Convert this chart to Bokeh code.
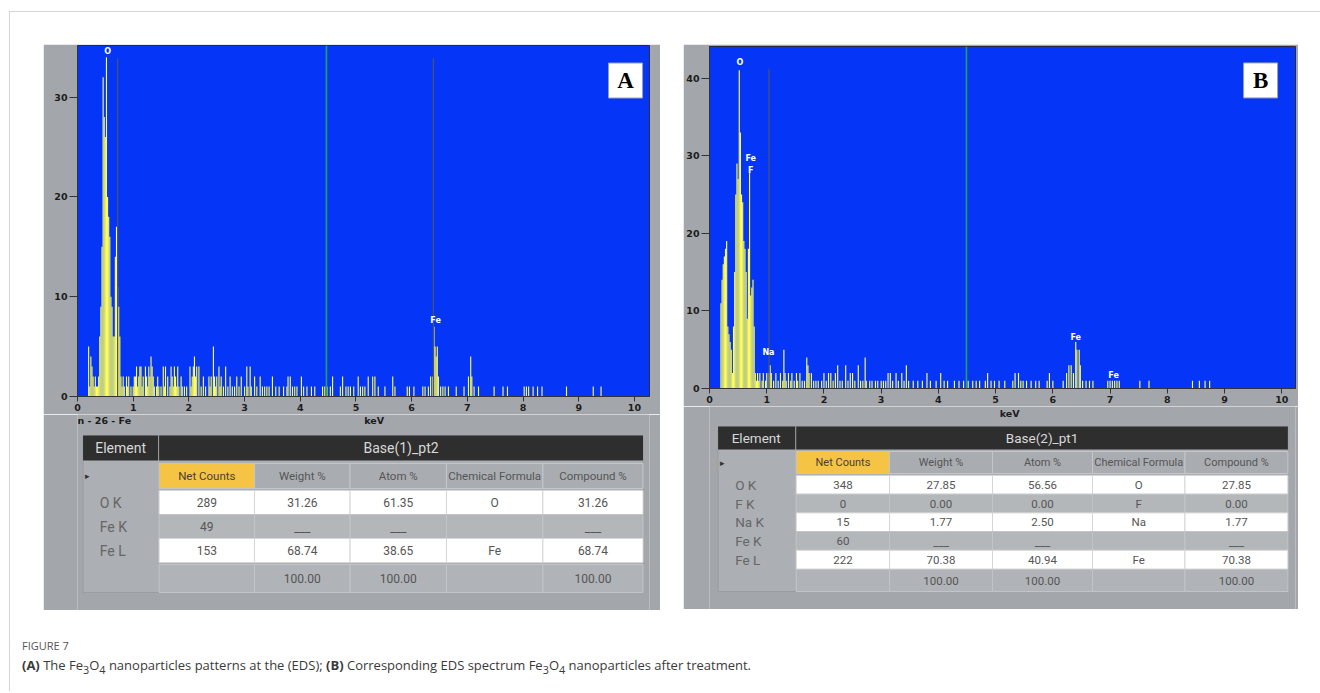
from bokeh.plotting import figure
from bokeh.models import Range1d, FixedTicker, Span, Spacer, Div
from bokeh.layouts import column, row
from bokeh.core.properties import value
from bokeh.embed import file_html
from bokeh.resources import INLINE

# ---------------- DATA ----------------
x_ticks = [0, 1, 2, 3, 4, 5, 6, 7, 8, 9, 10]
a_y_ticks = [0, 10, 20, 30]
b_y_ticks = [0, 10, 20, 30, 40]
x_label = "keV"
a_spectrum_name = "n - 26 - Fe"

# Spectrum A (keV, counts)
a_peak_e = [0.20, 0.22, 0.24, 0.26, 0.28, 0.30, 0.32, 0.34, 0.36, 0.38,
            0.40, 0.42, 0.44, 0.46, 0.48, 0.50, 0.52, 0.54, 0.56, 0.58,
            0.60, 0.62, 0.64, 0.66, 0.68, 0.70, 0.72, 0.74, 0.76, 0.78,
            0.80, 0.82, 0.84]
a_peak_c = [5, 1, 4, 3, 2, 1, 2, 1, 1, 2,
            6, 9, 15, 32, 28, 26, 34, 20, 18, 16,
            10, 9, 6, 6, 14, 17, 11, 9, 6, 2,
            1, 2, 1]
a_noise_e = [0.88, 0.90, 0.92, 0.96, 1.00, 1.02, 1.04, 1.06, 1.08, 1.10,
             1.12, 1.14, 1.16, 1.18, 1.22, 1.24, 1.26, 1.28, 1.30, 1.32,
             1.34, 1.36, 1.38, 1.42, 1.44, 1.46, 1.50, 1.54, 1.56, 1.58,
             1.62, 1.66, 1.68, 1.70, 1.72, 1.74, 1.76, 1.78, 1.80, 1.82,
             1.86, 1.88, 1.92, 1.96, 2.02, 2.04, 2.06, 2.08, 2.10, 2.12,
             2.14, 2.18, 2.22, 2.26, 2.30, 2.36, 2.38, 2.40, 2.44, 2.46,
             2.48, 2.50, 2.54, 2.56, 2.58, 2.62, 2.66, 2.70, 2.74, 2.78,
             2.82, 2.86, 2.90, 2.94, 3.00, 3.04, 3.06, 3.10, 3.12, 3.18,
             3.22, 3.28, 3.32, 3.36, 3.40, 3.44, 3.50, 3.56, 3.62, 3.70,
             3.76, 3.78, 3.82, 3.86, 3.90, 3.94, 4.02, 4.06, 4.12, 4.20,
             4.26, 4.40, 4.44, 4.48, 4.54, 4.58, 4.72, 4.76, 4.82, 4.86,
             4.90, 4.96, 5.04, 5.08, 5.12, 5.16, 5.22, 5.30, 5.34, 5.40,
             5.52, 5.66, 5.70, 5.92, 5.96, 6.04, 6.20, 6.24, 6.30, 6.34,
             6.38, 6.40, 6.42, 6.44, 6.46, 6.48, 6.52, 6.56, 6.60, 6.66,
             6.80, 6.94, 7.02, 7.06, 7.08, 7.12, 7.20, 7.48, 7.64, 7.72,
             8.02, 8.06, 8.10, 8.18, 8.26, 8.34, 8.78, 9.26, 9.40]
a_noise_c = [2, 1, 2, 1, 1, 2, 2, 3, 1, 2,
             3, 3, 1, 2, 3, 2, 1, 3, 2, 4,
             3, 2, 1, 1, 2, 1, 1, 3, 1, 3,
             2, 1, 3, 2, 1, 3, 2, 1, 3, 1,
             2, 1, 1, 1, 3, 1, 2, 3, 4, 2,
             3, 3, 1, 2, 1, 2, 1, 2, 5, 2,
             1, 2, 3, 1, 2, 1, 3, 1, 2, 1,
             1, 2, 1, 2, 1, 3, 1, 3, 1, 2,
             1, 2, 1, 1, 1, 1, 2, 1, 1, 1,
             1, 2, 2, 1, 1, 1, 2, 1, 1, 1,
             1, 1, 1, 1, 1, 2, 1, 2, 1, 1,
             1, 1, 2, 1, 1, 1, 2, 2, 2, 1,
             1, 2, 1, 1, 1, 1, 1, 1, 1, 2,
             2, 7, 5, 4, 5, 2, 1, 1, 1, 1,
             1, 1, 2, 4, 2, 1, 1, 1, 1, 1,
             1, 1, 1, 1, 1, 1, 1, 1, 1]
a_marker_x = [0.72, 6.39]
a_marker_top = [33.9, 33.9]
a_green_x = 4.47
a_lab_t = ["O", "Fe"]
a_lab_x = [0.54, 6.43]
a_lab_y = [34.6, 7.6]

# Spectrum B (keV, counts)
b_peak_e = [0.20, 0.22, 0.24, 0.26, 0.28, 0.30, 0.32, 0.34, 0.36, 0.38,
            0.40, 0.42, 0.44, 0.46, 0.48, 0.50, 0.52, 0.54, 0.56, 0.58,
            0.60, 0.62, 0.64, 0.66, 0.68, 0.70, 0.72, 0.74, 0.76, 0.78,
            0.80, 0.82]
b_peak_c = [11, 14, 16, 17, 18, 19, 8, 7, 6, 5,
            2, 8, 15, 25, 29, 27, 41, 33, 25, 24,
            19, 18, 15, 9, 18, 28, 12, 13, 14, 8,
            2, 1]
b_noise_e = [0.84, 0.86, 0.88, 0.92, 0.94, 0.98, 1.00, 1.04, 1.06, 1.08,
             1.12, 1.16, 1.20, 1.24, 1.28, 1.30, 1.32, 1.34, 1.38, 1.42,
             1.44, 1.48, 1.52, 1.54, 1.58, 1.62, 1.66, 1.70, 1.72, 1.74,
             1.78, 1.82, 1.86, 1.90, 1.96, 2.00, 2.04, 2.08, 2.12, 2.16,
             2.20, 2.24, 2.28, 2.32, 2.38, 2.42, 2.46, 2.50, 2.54, 2.60,
             2.64, 2.68, 2.72, 2.74, 2.80, 2.84, 2.90, 2.94, 3.00, 3.04,
             3.08, 3.12, 3.16, 3.20, 3.26, 3.30, 3.36, 3.40, 3.44, 3.48,
             3.56, 3.64, 3.72, 3.80, 3.86, 3.96, 4.04, 4.10, 4.16, 4.28,
             4.36, 4.44, 4.52, 4.60, 4.66, 4.72, 4.82, 4.86, 4.92, 4.98,
             5.06, 5.16, 5.30, 5.34, 5.40, 5.44, 5.48, 5.54, 5.62, 5.70,
             5.76, 5.90, 5.94, 6.00, 6.18, 6.24, 6.28, 6.32, 6.36, 6.40,
             6.42, 6.46, 6.48, 6.52, 6.58, 6.64, 6.70, 6.96, 7.00, 7.04,
             7.08, 7.12, 7.16, 7.52, 7.68, 8.44, 8.56, 8.66, 8.74]
b_noise_c = [2, 1, 2, 1, 2, 1, 2, 2, 3, 2,
             1, 2, 1, 2, 1, 5, 2, 1, 2, 1,
             2, 1, 2, 1, 2, 1, 1, 4, 3, 2,
             2, 1, 1, 1, 1, 2, 1, 2, 2, 1,
             2, 3, 1, 1, 3, 1, 2, 2, 1, 3,
             1, 1, 4, 1, 1, 1, 1, 1, 1, 1,
             1, 2, 2, 1, 2, 1, 2, 1, 3, 1,
             1, 1, 1, 2, 1, 1, 2, 1, 1, 1,
             1, 1, 1, 1, 1, 1, 1, 2, 1, 1,
             1, 1, 1, 2, 2, 1, 1, 1, 1, 1,
             1, 1, 2, 1, 1, 2, 3, 3, 2, 6,
             5, 5, 3, 1, 1, 1, 1, 1, 1, 1,
             1, 1, 1, 1, 1, 1, 1, 1, 1]
b_marker_x = [1.04]
b_marker_top = [41.2]
b_green_x = 4.49
b_lab_t = ["O", "Fe", "F", "Na", "Fe", "Fe"]
b_lab_x = [0.53, 0.72, 0.72, 1.03, 6.40, 7.06]
b_lab_y = [42.0, 29.6, 28.1, 4.6, 6.6, 1.7]

# Tables
col_headers = ["Net Counts", "Weight %", "Atom %", "Chemical Formula", "Compound %"]

tA_title = "Base(1)_pt2"
tA_elements = ["O K", "Fe K", "Fe L"]
tA_net = ["289", "49", "153"]
tA_weight = ["31.26", "___", "68.74"]
tA_atom = ["61.35", "___", "38.65"]
tA_formula = ["O", "", "Fe"]
tA_compound = ["31.26", "___", "68.74"]
tA_totals = ["", "100.00", "100.00", "", "100.00"]

tB_title = "Base(2)_pt1"
tB_elements = ["O K", "F K", "Na K", "Fe K", "Fe L"]
tB_net = ["348", "0", "15", "60", "222"]
tB_weight = ["27.85", "0.00", "1.77", "___", "70.38"]
tB_atom = ["56.56", "0.00", "2.50", "___", "40.94"]
tB_formula = ["O", "F", "Na", "", "Fe"]
tB_compound = ["27.85", "0.00", "1.77", "___", "70.38"]
tB_totals = ["", "100.00", "100.00", "", "100.00"]

# ---------------- STYLE ----------------
BLUE = "#0536F8"
YELLOW = "#FFFF5C"
PANEL = "#A3A7AB"
TICKF = "DejaVu Sans"
TFONT = value("Roboto")


def spectrum(W, H, mbl, mbr, mbt, mbb, xmax, ymax, energy, counts, yticks,
             marker_x, marker_top, green_x, lab_x, lab_y, lab_t, box_x, box_y, box_t):
    p = figure(width=W, height=H, x_range=Range1d(0, xmax), y_range=Range1d(0, ymax),
               output_backend="svg", toolbar_location=None,
               min_border_left=mbl, min_border_right=mbr,
               min_border_top=mbt, min_border_bottom=mbb)
    p.background_fill_color = BLUE
    p.border_fill_color = PANEL
    p.outline_line_color = "#2a2a44"
    p.grid.visible = False
    for ax in (p.xaxis, p.yaxis):
        ax.major_label_text_font = TICKF
        ax.major_label_text_font_style = "bold"
        ax.major_label_text_font_size = "9.5px"
        ax.major_label_text_color = "#1c1c1c"
        ax.axis_line_color = "#333333"
        ax.major_tick_line_color = "#333333"
        ax.major_tick_in = 0
        ax.minor_tick_line_color = None
        ax.major_label_standoff = 2
    p.xaxis.ticker = FixedTicker(ticks=x_ticks)
    p.yaxis.ticker = FixedTicker(ticks=yticks)
    p.xaxis.major_tick_out = 5
    p.yaxis.major_tick_out = 8

    p.vbar(x=energy, top=counts, width=0.02, fill_color=YELLOW, line_color=None)
    p.segment(x0=marker_x, y0=[0] * len(marker_x), x1=marker_x, y1=marker_top,
              line_color="#4c5464", line_width=1.2)
    p.add_layout(Span(location=green_x, dimension="height", line_color="#22A35C", line_width=1.6))
    p.text(x=lab_x, y=lab_y, text=lab_t, text_color="white", text_font=value(TICKF),
           text_font_size="8px", text_font_style="bold", text_align="center",
           text_baseline="middle")
    p.rect(x=[box_x], y=[box_y], width=34, height=35, width_units="screen",
           height_units="screen", fill_color="white", line_color="#98a0aa", line_width=1)
    p.text(x=[box_x], y=[box_y], text=[box_t], text_color="black",
           text_font=value("Liberation Serif"), text_font_style="bold",
           text_font_size="23px", text_align="center", text_baseline="middle")
    return p


def table(W, H, left, edges, hdr, colhdr, row0, row_h, total, title, elements, cols, totals,
          fs_body, fs_hdr, fs_head, under_x, under_y, under_t, under_align):
    p = figure(width=W, height=H, x_range=Range1d(0, W), y_range=Range1d(H, 0),
               output_backend="svg", toolbar_location=None, min_border=0,
               x_axis_location=None, y_axis_location=None)
    p.grid.visible = False
    p.outline_line_color = None
    p.background_fill_color = PANEL
    p.border_fill_color = PANEL
    # texts that belong under the spectrum (axis title, spectrum name)
    p.text(x=under_x, y=under_y, text=under_t, text_align=under_align, text_baseline="middle",
           text_font=value(TICKF), text_font_style="bold", text_font_size="9.5px",
           text_color="#1c1c1c")
    n = len(elements)
    p.quad(left=[left[0]], right=[edges[-1]], top=[hdr[0]], bottom=[total[1]],
           fill_color="#ACAFB3", line_color="#9A9EA2")
    p.quad(left=[left[0], edges[0]], right=[edges[0] - 1, edges[-1]],
           top=[hdr[0], hdr[0]], bottom=[hdr[1], hdr[1]],
           fill_color="#2E2E2E", line_color=None)
    hy = (hdr[0] + hdr[1]) / 2
    p.text(x=[(left[0] + left[1]) / 2, (edges[0] + edges[-1]) / 2], y=[hy, hy],
           text=["Element", title], text_color="#D8D8D8", text_font=TFONT,
           text_font_size=fs_head, text_align="center", text_baseline="middle")
    cy = (colhdr[0] + colhdr[1]) / 2
    lefts = edges[:-1]
    rights = edges[1:]
    centers = [(a + b) / 2 for a, b in zip(lefts, rights)]
    fills = ["#F6C444"] + ["#A9ADB1"] * (len(lefts) - 1)
    p.quad(left=lefts, right=rights, top=[colhdr[0]] * len(lefts),
           bottom=[colhdr[1]] * len(lefts), fill_color=fills, line_color="#C4C7CA",
           line_width=1)
    p.text(x=centers, y=[cy] * len(centers), text=col_headers,
           text_color=["#4A4232"] + ["#555555"] * (len(centers) - 1), text_font=TFONT,
           text_font_size=fs_hdr, text_align="center", text_baseline="middle")
    p.text(x=[left[0] + 5], y=[cy], text=["▸"], text_color="#333333",
           text_font_size="9px", text_align="center", text_baseline="middle")
    tops = [row0 + i * row_h for i in range(n)]
    bots = [t + row_h for t in tops]
    for i in range(n):
        white = (i % 2 == 0)
        p.quad(left=lefts, right=rights, top=[tops[i]] * len(lefts),
               bottom=[bots[i]] * len(lefts),
               fill_color="#FFFFFF" if white else "#B4B7BA",
               line_color="#D6D6D6" if white else "#C2C5C8", line_width=1)
    rx, ry, rt = [], [], []
    for i in range(n):
        mid = (tops[i] + bots[i]) / 2
        for j, c in enumerate(cols):
            t = c[i]
            if t == "":
                continue
            rx.append(centers[j])
            ry.append(mid + (row_h * 0.05 if t == "___" else 0))
            rt.append(t)
    p.text(x=rx, y=ry, text=rt, text_color="#555555", text_font=TFONT,
           text_font_size=fs_body, text_align="center", text_baseline="middle")
    p.text(x=[left[0] + 18] * n, y=[(a + b) / 2 for a, b in zip(tops, bots)], text=elements,
           text_color="#666666", text_font=TFONT, text_font_size=fs_head,
           text_align="left", text_baseline="middle")
    p.quad(left=lefts, right=rights, top=[total[0]] * len(lefts),
           bottom=[total[1]] * len(lefts), fill_color="#B0B3B7",
           line_color="#C2C5C8", line_width=1)
    ty = (total[0] + total[1]) / 2
    tx = [centers[j] for j, t in enumerate(totals) if t]
    tt = [t for t in totals if t]
    p.text(x=tx, y=[ty] * len(tx), text=tt, text_color="#555555", text_font=TFONT,
           text_font_size=fs_body, text_align="center", text_baseline="middle")
    return p


specA = spectrum(617, 370, 34, 11, 1, 18, 10.27, 35.17, a_peak_e + a_noise_e,
                 a_peak_c + a_noise_c, a_y_ticks, a_marker_x, a_marker_top, a_green_x,
                 a_lab_x, a_lab_y, a_lab_t, 9.84, 31.66, "A")
dA = 14
tableA = table(617, 196, (6, 87), [88, 191, 294, 398, 502, 610], (7 + dA, 32 + dA),
               (35 + dA, 60 + dA), 62 + dA, 24, (136 + dA, 164 + dA), tA_title, tA_elements,
               [tA_net, tA_weight, tA_atom, tA_formula, tA_compound], tA_totals,
               "12px", "11.5px", "14px", [0, 320], [6, 6], [a_spectrum_name, x_label],
               ["left", "center"])

specB = spectrum(615, 362, 23, 3, 2, 18, 10.24, 44.07, b_peak_e + b_noise_e,
                 b_peak_c + b_noise_c, b_y_ticks, b_marker_x, b_marker_top, b_green_x,
                 b_lab_x, b_lab_y, b_lab_t, 9.63, 39.7, "B")
dB = 18
tableB = table(615, 203, (9, 89), [91, 189, 297, 402, 499, 607], (2 + dB, 25 + dB),
               (27 + dB, 49 + dB), 51 + dB, 18.7, (145 + dB, 167 + dB), tB_title, tB_elements,
               [tB_net, tB_weight, tB_atom, tB_formula, tB_compound], tB_totals,
               "11.5px", "11px", "13.5px", [315], [7], [x_label], ["center"])

caption = Div(text=(
    '<div style="font-family:\'Open Sans\';padding-left:7px;">'
    '<div style="font-size:11px;line-height:16px;color:#555;">FIGURE 7</div>'
    '<div style="font-size:13px;line-height:18px;margin-top:2px;color:#3a3a3a;">'
    '<b>(A)</b> The Fe<sub>3</sub>O<sub>4</sub> nanoparticles patterns at the (EDS); '
    '<b>(B)</b> Corresponding EDS spectrum Fe<sub>3</sub>O<sub>4</sub> nanoparticles after treatment.'
    '</div></div>'), width=1290, height=48)

colA = column(specA, tableA)
colB = column(specB, tableB)
top_row = row(Spacer(width=33, height=10), colA, Spacer(width=23, height=10), colB,
              Spacer(width=22, height=10))
root = column(Spacer(height=32, width=10), top_row, Spacer(height=23, width=10), caption,
              styles={"border-top": "1px solid #d4d4d4", "border-left": "1px solid #d4d4d4"},
              margin=(11, 0, 0, 9))

open("out.html", "w").write(file_html(root, INLINE))
